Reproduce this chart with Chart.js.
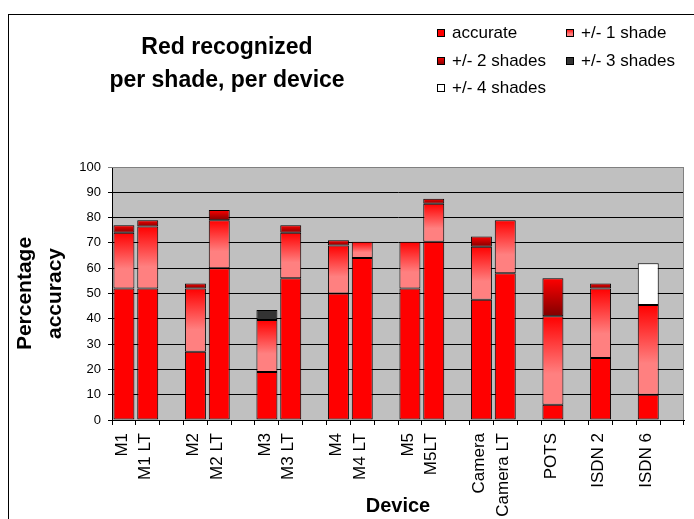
<!DOCTYPE html>
<html>
<head>
<meta charset="utf-8">
<title>Red recognized per shade, per device</title>
<script src="https://cdn.jsdelivr.net/npm/chart.js@4.4.1/dist/chart.umd.min.js"></script>
<style>
  html, body { margin: 0; padding: 0; background: #fff; }
  #wrap { width: 694px; height: 519px; }
</style>
</head>
<body>
<div id="wrap"><canvas id="chart" width="694" height="519"></canvas></div>
<script>
(function () {
  'use strict';

  // Devices (blank entries are the gaps between groups)
  var devices = ['M1', 'M1 LT', '', 'M2', 'M2 LT', '', 'M3', 'M3 LT', '', 'M4', 'M4 LT', '',
    'M5', 'M5LT', '', 'Camera', 'Camera LT', '', 'POTS', '', 'ISDN 2', '', 'ISDN 6', ''];

  // Percentages
  var accurate = [52, 52, null, 27, 60, null, 19, 56, null, 50, 64, null,
    52, 70.5, null, 47.5, 58, null, 6, null, 24.5, null, 10, null];
  var shade1 = [22, 24.5, null, 25, 19, null, 20.5, 18, null, 19, 6.5, null,
    18.5, 15, null, 21, 21, null, 35, null, 27.5, null, 35.5, null];
  var shade2 = [3, 2.5, null, 2, 4, null, null, 3, null, 2, null, null,
    null, 2, null, 4, null, null, 15, null, 2, null, null, null];
  var shade3 = [null, null, null, null, null, null, 4, null, null, null, null, null,
    null, null, null, null, null, null, null, null, null, null, null, null];
  var shade4 = [null, null, null, null, null, null, null, null, null, null, null, null,
    null, null, null, null, null, null, null, null, null, null, 16.5, null];

  var yTicks = [0, 10, 20, 30, 40, 50, 60, 70, 80, 90, 100];

  var FONT = "Arial, 'Liberation Sans', sans-serif";
  Chart.defaults.font.family = FONT;
  Chart.defaults.color = '#000';

  var stops1 = [[0, '#ff0000'], [0.65, '#ff8080'], [1, '#ff8080']];
  var stops2 = [[0, '#ff0000'], [1, '#800000']];

  function makeGrad(ctx, top, bot, stops) {
    var g = ctx.createLinearGradient(0, top, 0, bot);
    stops.forEach(function (s) { g.addColorStop(s[0], s[1]); });
    return g;
  }

  // gradient per bar segment, spanning that segment only
  function segFill(stops) {
    return function (c) {
      var chart = c.chart;
      var y = chart.scales.y;
      if (c.type !== 'data' || !chart.chartArea || !y || c.raw == null) return stops[0][1];
      var base = 0;
      for (var k = 0; k < c.datasetIndex; k++) {
        base += chart.data.datasets[k].data[c.dataIndex] || 0;
      }
      var top = y.getPixelForValue(base + c.raw);
      var bot = y.getPixelForValue(base);
      return makeGrad(chart.ctx, top, bot, stops);
    };
  }

  var legendItems = [
    { label: 'accurate', fill: '#ff0000', x: 437, y: 33 },
    { label: '+/- 1 shade', stops: stops1, x: 566, y: 33 },
    { label: '+/- 2 shades', stops: stops2, x: 437, y: 61 },
    { label: '+/- 3 shades', fill: '#333333', x: 566, y: 61 },
    { label: '+/- 4 shades', fill: '#ffffff', x: 437, y: 88 }
  ];

  var decor = {
    id: 'decor',
    beforeDraw: function (chart) {
      var a = chart.chartArea, ctx = chart.ctx;
      ctx.save();
      ctx.fillStyle = '#c0c0c0';
      ctx.fillRect(a.left, a.top, a.right - a.left, a.bottom - a.top);
      ctx.restore();
    },
    beforeDatasetsDraw: function (chart) {
      var a = chart.chartArea, ctx = chart.ctx;
      ctx.save();
      ctx.strokeStyle = '#808080';
      ctx.lineWidth = 1;
      ctx.beginPath();
      ctx.moveTo(a.left, a.top + 0.5);
      ctx.lineTo(a.right - 0.5, a.top + 0.5);
      ctx.lineTo(a.right - 0.5, a.bottom);
      ctx.stroke();
      ctx.restore();
    },
    afterDraw: function (chart) {
      var ctx = chart.ctx;
      ctx.save();
      // outer frame
      ctx.strokeStyle = '#000';
      ctx.lineWidth = 1;
      ctx.strokeRect(8.5, 14.5, 800, 600);

      // title
      ctx.fillStyle = '#000';
      ctx.font = 'bold 23px ' + FONT;
      ctx.textAlign = 'center';
      ctx.textBaseline = 'alphabetic';
      ctx.fillText('Red recognized', 227, 54);
      ctx.fillText('per shade, per device', 227, 87);

      // legend
      ctx.font = '17px ' + FONT;
      ctx.textAlign = 'left';
      ctx.textBaseline = 'middle';
      legendItems.forEach(function (it) {
        var sx = it.x, sy = it.y - 4;
        ctx.fillStyle = it.stops ? makeGrad(ctx, sy, sy + 8, it.stops) : it.fill;
        ctx.fillRect(sx, sy, 8, 8);
        ctx.strokeStyle = '#000';
        ctx.strokeRect(sx + 0.5, sy + 0.5, 7, 7);
        ctx.fillStyle = '#000';
        ctx.fillText(it.label, it.x + 15, it.y);
      });
      ctx.restore();
    }
  };

  function ds(label, data, fill) {
    return {
      label: label,
      data: data,
      backgroundColor: fill,
      borderColor: '#000',
      borderWidth: 1,
      borderSkipped: false,
      barPercentage: 0.88,
      categoryPercentage: 1
    };
  }

  new Chart(document.getElementById('chart'), {
    type: 'bar',
    data: {
      labels: devices,
      datasets: [
        ds('accurate', accurate, '#ff0000'),
        ds('+/- 1 shade', shade1, segFill(stops1)),
        ds('+/- 2 shades', shade2, segFill(stops2)),
        ds('+/- 3 shades', shade3, '#333333'),
        ds('+/- 4 shades', shade4, '#ffffff')
      ]
    },
    options: {
      responsive: false,
      animation: false,
      layout: { padding: { left: 0, top: 167, right: 10, bottom: 0 } },
      plugins: {
        legend: { display: false },
        title: { display: false },
        tooltip: { enabled: false }
      },
      scales: {
        x: {
          stacked: true,
          afterFit: function (s) {
            s.height = 99;
            s.paddingLeft = 0;
            s.paddingRight = 0;
          },
          border: { color: '#000', width: 1 },
          grid: { drawOnChartArea: false, drawTicks: true, tickLength: 5, color: '#000' },
          ticks: {
            autoSkip: false, maxRotation: 90, minRotation: 90, padding: 8,
            labelOffset: -2, font: { size: 17 }, color: '#000'
          },
          title: {
            display: true, text: 'Device', color: '#000',
            font: { size: 20, weight: 'bold', lineHeight: 1.2 },
            padding: { top: 0, bottom: 1 }
          }
        },
        y: {
          stacked: true,
          min: 0,
          max: 100,
          afterFit: function (s) { s.width = 112; },
          afterBuildTicks: function (s) {
            s.ticks = yTicks.map(function (v) { return { value: v }; });
          },
          border: { color: '#000', width: 1 },
          grid: {
            color: function (c) { return c.tick && c.tick.value === 100 ? '#808080' : '#000'; },
            tickLength: 4
          },
          ticks: { padding: 7, font: { size: 13 }, color: '#000' },
          title: {
            display: true, text: ['Percentage', 'accuracy'], color: '#000',
            font: { size: 21, weight: 'bold', lineHeight: 30 / 21 },
            padding: { top: 10, bottom: 0 }
          }
        }
      }
    },
    plugins: [decor]
  });
})();
</script>
</body>
</html>
